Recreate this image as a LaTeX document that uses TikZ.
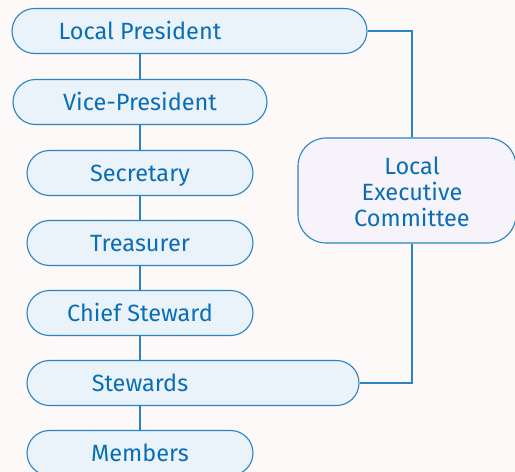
\documentclass[tikz,border=0pt]{standalone}
\usepackage{fontspec}
\setmainfont{Fira Sans}
\definecolor{bg}{HTML}{FDF9F8}
\definecolor{edge}{HTML}{2A83C4}
\definecolor{pillfill}{HTML}{EAF2FA}
\definecolor{lecfill}{HTML}{F6F3FA}
\definecolor{txtc}{HTML}{0A6EB6}
\begin{document}
\begin{tikzpicture}[x=1pt,y=-1pt,
  pill/.style={draw=edge, line width=1.1pt, fill=pillfill, rounded corners=22.5pt, inner sep=0pt, minimum height=45pt},
  lbl/.style={text=txtc, font=\fontsize{23.5}{26}\selectfont, inner sep=0pt, anchor=base},
  lec/.style={draw=edge, line width=1.1pt, fill=lecfill, rounded corners=28pt, inner sep=0pt, minimum width=218pt, minimum height=105pt},
  conn/.style={draw=edge, line width=1.1pt}]
\path[use as bounding box] (0,0) rectangle (515,472);
\fill[bg] (0,0) rectangle (515,472);
\clip (0,0) rectangle (515,472);
% pills
\node[pill, minimum width=355pt] (lp) at (189.5,31) {};
\node[lbl] (lpt) at (140,39.5) {Local President};
\node[pill, minimum width=254pt] (vp) at (140,102) {};
\node[lbl] (vpt) at (140,110.5) {Vice-President};
\node[pill, minimum width=226pt] (sec) at (140,173) {};
\node[lbl] (sect) at (140,181.5) {Secretary};
\node[pill, minimum width=226pt] (tre) at (140,243) {};
\node[lbl] (tret) at (140,251.5) {Treasurer};
\node[pill, minimum width=226pt] (cs) at (140,313) {};
\node[lbl] (cst) at (140,321.5) {Chief Steward};
\node[pill, minimum width=332pt] (st) at (193,383) {};
\node[lbl] (stt) at (140,391.5) {Stewards};
\node[pill, minimum width=226pt] (mem) at (140,453) {};
\node[lbl] (memt) at (140,461.5) {Members};
% executive committee
\node[lec] (ex) at (407,190.5) {};
\node[lbl, align=center] (ext) at (412,226.5) {Local\\Executive\\Committee};
% connectors
\path[conn] (lpt |- lp.south) -- (vpt |- vp.north);
\path[conn] (vpt |- vp.south) -- (sect |- sec.north);
\path[conn] (sect |- sec.south) -- (tret |- tre.north);
\path[conn] (tret |- tre.south) -- (cst |- cs.north);
\path[conn] (cst |- cs.south) -- (stt |- st.north);
\path[conn] (stt |- st.south) -- (memt |- mem.north);
\path[conn] (lp.east) -| (ext |- ex.north);
\path[conn] (ext |- ex.south) |- (st.east);
\end{tikzpicture}
\end{document}
